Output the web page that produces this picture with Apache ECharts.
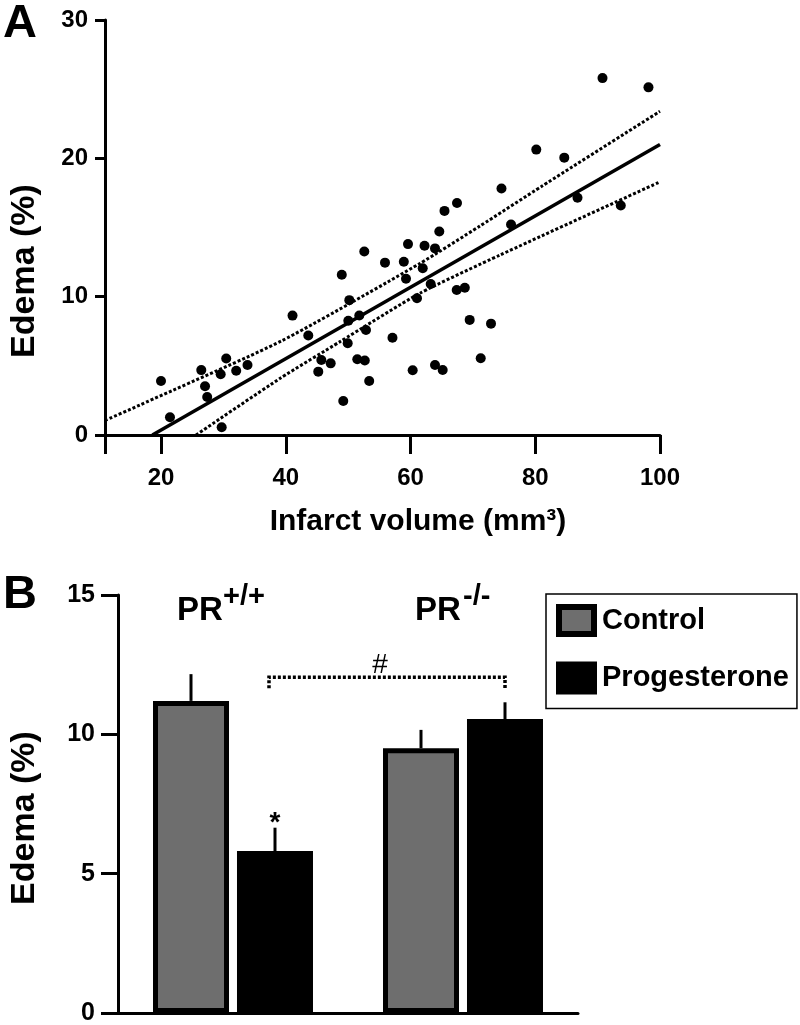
<!DOCTYPE html>
<html><head><meta charset="utf-8">
<script src="https://cdn.jsdelivr.net/npm/echarts@6/dist/echarts.min.js"></script>
<style>html,body{margin:0;padding:0;background:#fff}#c{width:800px;height:1025px}</style>
</head><body><div id="c"></div>
<script>
// ---------- Panel A data ----------
const infarctVolume = [19.98,21.42,26.44,27.04,27.39,29.71,29.55,30.44,32.04,33.85,
  41.07,43.60,45.20,45.69,47.19,48.97,49.21,50.18,50.02,49.92,
  51.78,51.46,52.66,52.85,53.37,52.58,55.90,57.10,58.92,59.27,
  59.59,60.34,61.03,61.95,62.24,63.92,63.23,63.92,65.15,67.40,
  68.70,69.48,71.25,72.90,90.78,98.15,80.16,84.65,74.58,86.77,
  93.71,67.45,65.44,64.61,76.11];
const edemaA = [3.90,1.28,4.69,3.53,2.75,0.56,4.39,5.53,4.64,5.06,
  8.63,7.19,4.58,5.42,5.18,11.59,2.46,9.75,8.26,6.63,
  8.64,5.48,5.39,7.59,3.90,13.27,12.46,7.03,12.52,11.30,
  13.80,4.68,9.88,12.05,13.68,13.49,10.92,5.06,4.70,10.48,
  10.64,8.32,5.55,8.05,25.80,25.13,20.63,20.05,17.82,17.15,
  16.59,16.77,16.20,14.71,15.22];
const fitX = [18.6, 100];
const fitY = [0, 21.0];
const upperX = [11, 16.6, 39.3, 61.5, 71.1, 81.1, 100];
const upperY = [1.05, 2.17, 6.8, 12.4, 15.1, 18.0, 23.4];
const lowerX = [25.6, 39.1, 48.7, 61.5, 74.3, 100];
const lowerY = [0, 4.1, 6.75, 10.25, 13.0, 18.3];
const xTicksA = [11, 20, 40, 60, 80, 100];
const xLabelsA = [20, 40, 60, 80, 100];

// ---------- Panel B data ----------
const genotypes = ['PR+/+', 'PR-/-'];
const controlMean = [11.2, 9.5];
const controlSem = [0.96, 0.66];
const progMean = [5.81, 10.55];
const progSem = [0.84, 0.6];
const progMarks = ['*', ''];
const bracketLevel = 12.05;
const bracketDrop = 0.4;
const bracketLabel = '#';

const FONT = '"Liberation Sans", Arial, Helvetica, sans-serif';
const BAR_W = 76;
const OFF = 42;

const zip = (a, b) => a.map((v, i) => [v, b[i]]);

const chart = echarts.init(document.getElementById('c'), null, {renderer: 'canvas'});

function errSeries(means, sems, offset, marks) {
  return {
    type: 'custom', xAxisIndex: 1, yAxisIndex: 1, z: 5, silent: true,
    data: means.map((m, i) => [i, m, sems[i]]),
    renderItem: (p, api) => {
      const i = api.value(0), m = api.value(1), s = api.value(2);
      const c0 = api.coord([i, m]);
      const c1 = api.coord([i, m + s]);
      const x = c0[0] + offset;
      const children = [{type: 'line', shape: {x1: x, y1: c0[1], x2: x, y2: c1[1]},
        style: {stroke: '#000', lineWidth: 3}}];
      const mk = marks ? marks[i] : '';
      if (mk) {
        children.push({type: 'text', style: {text: mk, x: x, y: c1[1] - 4,
          align: 'center', verticalAlign: 'middle', textAlign: 'center', textVerticalAlign: 'middle',
          font: 'bold 28px ' + FONT, fill: '#000'}});
      }
      return {type: 'group', children};
    }
  };
}

const option = {
  animation: false,
  backgroundColor: '#fff',
  grid: [
    {left: 105, top: 20, width: 555, height: 415, outerBoundsMode: 'none', containLabel: false},
    {left: 118, top: 595, width: 460, height: 418, outerBoundsMode: 'none', containLabel: false}
  ],
  xAxis: [
    {type: 'value', gridIndex: 0, min: 11, max: 100,
      axisLine: {show: true, onZero: false, lineStyle: {color: '#000', width: 3}},
      axisTick: {show: true, length: 19, lineStyle: {color: '#000', width: 3}, customValues: xTicksA},
      axisLabel: {show: true, margin: 31, color: '#000', fontSize: 24, fontWeight: 'bold', fontFamily: FONT,
        customValues: xLabelsA},
      splitLine: {show: false}},
    {type: 'category', gridIndex: 1, data: genotypes,
      axisLine: {show: true, lineStyle: {color: '#000', width: 3}},
      axisTick: {show: false}, axisLabel: {show: false}, splitLine: {show: false}}
  ],
  yAxis: [
    {type: 'value', gridIndex: 0, min: 0, max: 30, interval: 10,
      axisLine: {show: true, onZero: false, lineStyle: {color: '#000', width: 3}},
      axisTick: {show: true, length: 10, lineStyle: {color: '#000', width: 3}},
      axisLabel: {margin: 17, color: '#000', fontSize: 24, fontWeight: 'bold', fontFamily: FONT},
      splitLine: {show: false}},
    {type: 'value', gridIndex: 1, min: 0, max: 15, interval: 5,
      axisLine: {show: true, lineStyle: {color: '#000', width: 3}},
      axisTick: {show: true, length: 17, lineStyle: {color: '#000', width: 3}},
      axisLabel: {margin: 23, color: '#000', fontSize: 25, fontWeight: 'bold', fontFamily: FONT},
      splitLine: {show: false}}
  ],
  legend: {
    show: true, orient: 'vertical', left: 546, top: 594,
    padding: [10, 8, 14, 10], borderColor: '#000', borderWidth: 1.5,
    itemWidth: 35, itemHeight: 27, itemGap: 24.5, icon: 'rect', selectedMode: false,
    itemStyle: {borderColor: '#000', borderWidth: 6},
    textStyle: {fontSize: 29, fontWeight: 'bold', color: '#000', fontFamily: FONT, lineHeight: 27, padding: [0, 0, 0, 3]},
    data: ['Control', 'Progesterone']
  },
  series: [
    {type: 'scatter', xAxisIndex: 0, yAxisIndex: 0, symbol: 'circle', symbolSize: 10,
      itemStyle: {color: '#000', opacity: 1}, data: zip(infarctVolume, edemaA), z: 4},
    {type: 'line', xAxisIndex: 0, yAxisIndex: 0, showSymbol: false, symbol: 'none',
      lineStyle: {color: '#000', width: 3.5}, data: zip(fitX, fitY), z: 3},
    {type: 'line', xAxisIndex: 0, yAxisIndex: 0, showSymbol: false, symbol: 'none', smooth: 0.2,
      lineStyle: {color: '#000', width: 3, type: [3, 2]}, data: zip(upperX, upperY), z: 3},
    {type: 'line', xAxisIndex: 0, yAxisIndex: 0, showSymbol: false, symbol: 'none', smooth: 0.2,
      lineStyle: {color: '#000', width: 3, type: [3, 2]}, data: zip(lowerX, lowerY), z: 3},
    {name: 'Control', type: 'bar', xAxisIndex: 1, yAxisIndex: 1, barWidth: BAR_W, barGap: '10.5%',
      itemStyle: {color: '#6e6e6e', borderColor: '#000', borderWidth: 5}, data: controlMean, z: 2},
    {name: 'Progesterone', type: 'bar', xAxisIndex: 1, yAxisIndex: 1, barWidth: BAR_W, barGap: '10.5%',
      itemStyle: {color: '#000', borderColor: '#000', borderWidth: 3}, data: progMean, z: 2},
    errSeries(controlMean, controlSem, -OFF, null),
    errSeries(progMean, progSem, OFF, progMarks),
    {type: 'custom', xAxisIndex: 1, yAxisIndex: 1, z: 5, silent: true,
      data: [[0, bracketLevel, 1]],
      renderItem: (p, api) => {
        const a = api.value(0), lvl = api.value(1), b = api.value(2);
        const pa = api.coord([a, lvl]);
        const pb = api.coord([b, lvl]);
        const pd = api.coord([a, lvl - bracketDrop]);
        const x1 = pa[0] + OFF - 6, x2 = pb[0] + OFF;
        return {type: 'group', children: [
          {type: 'polyline', shape: {points: [[x1, pd[1]], [x1, pa[1]], [x2, pa[1]], [x2, pd[1]]]},
            style: {stroke: '#000', lineWidth: 3.5, lineDash: [3, 2], fill: null}},
          {type: 'text', style: {text: bracketLabel, x: (x1 + x2) / 2 - 7, y: pa[1] - 12,
            align: 'center', verticalAlign: 'middle', textAlign: 'center', textVerticalAlign: 'middle',
            font: '28px ' + FONT, fill: '#000'}}
        ]};
      }}
  ],
  graphic: [
    {type: 'text', x: 3, y: 24, style: {text: 'A', font: 'bold 47px ' + FONT, fill: '#000',
      align: 'left', verticalAlign: 'middle', textAlign: 'left', textVerticalAlign: 'middle'}},
    {type: 'text', x: 3, y: 595, style: {text: 'B', font: 'bold 47px ' + FONT, fill: '#000',
      align: 'left', verticalAlign: 'middle', textAlign: 'left', textVerticalAlign: 'middle'}},
    {type: 'text', x: 25, y: 271, rotation: Math.PI / 2, style: {text: 'Edema (%)', x: 0, y: 0,
      font: 'bold 34px ' + FONT, fill: '#000', align: 'center', verticalAlign: 'middle', textAlign: 'center', textVerticalAlign: 'middle'}},
    {type: 'text', x: 25, y: 818, rotation: Math.PI / 2, style: {text: 'Edema (%)', x: 0, y: 0,
      font: 'bold 34px ' + FONT, fill: '#000', align: 'center', verticalAlign: 'middle', textAlign: 'center', textVerticalAlign: 'middle'}},
    {type: 'text', x: 418, y: 522, style: {text: 'Infarct volume (mm³)', x: 0, y: 0,
      font: 'bold 30px ' + FONT, fill: '#000', align: 'center', verticalAlign: 'middle', textAlign: 'center', textVerticalAlign: 'middle'}},
    {type: 'text', x: 177, y: 611, style: {text: 'PR', font: 'bold 33px ' + FONT, fill: '#000',
      align: 'left', verticalAlign: 'middle', textAlign: 'left', textVerticalAlign: 'middle'}},
    {type: 'text', x: 223, y: 597, style: {text: '+/+', font: 'bold 29px ' + FONT, fill: '#000',
      align: 'left', verticalAlign: 'middle', textAlign: 'left', textVerticalAlign: 'middle'}},
    {type: 'text', x: 415, y: 611, style: {text: 'PR', font: 'bold 33px ' + FONT, fill: '#000',
      align: 'left', verticalAlign: 'middle', textAlign: 'left', textVerticalAlign: 'middle'}},
    {type: 'text', x: 463, y: 597, style: {text: '-/-', font: 'bold 29px ' + FONT, fill: '#000',
      align: 'left', verticalAlign: 'middle', textAlign: 'left', textVerticalAlign: 'middle'}}
  ]
};
chart.setOption(option);
</script></body></html>
